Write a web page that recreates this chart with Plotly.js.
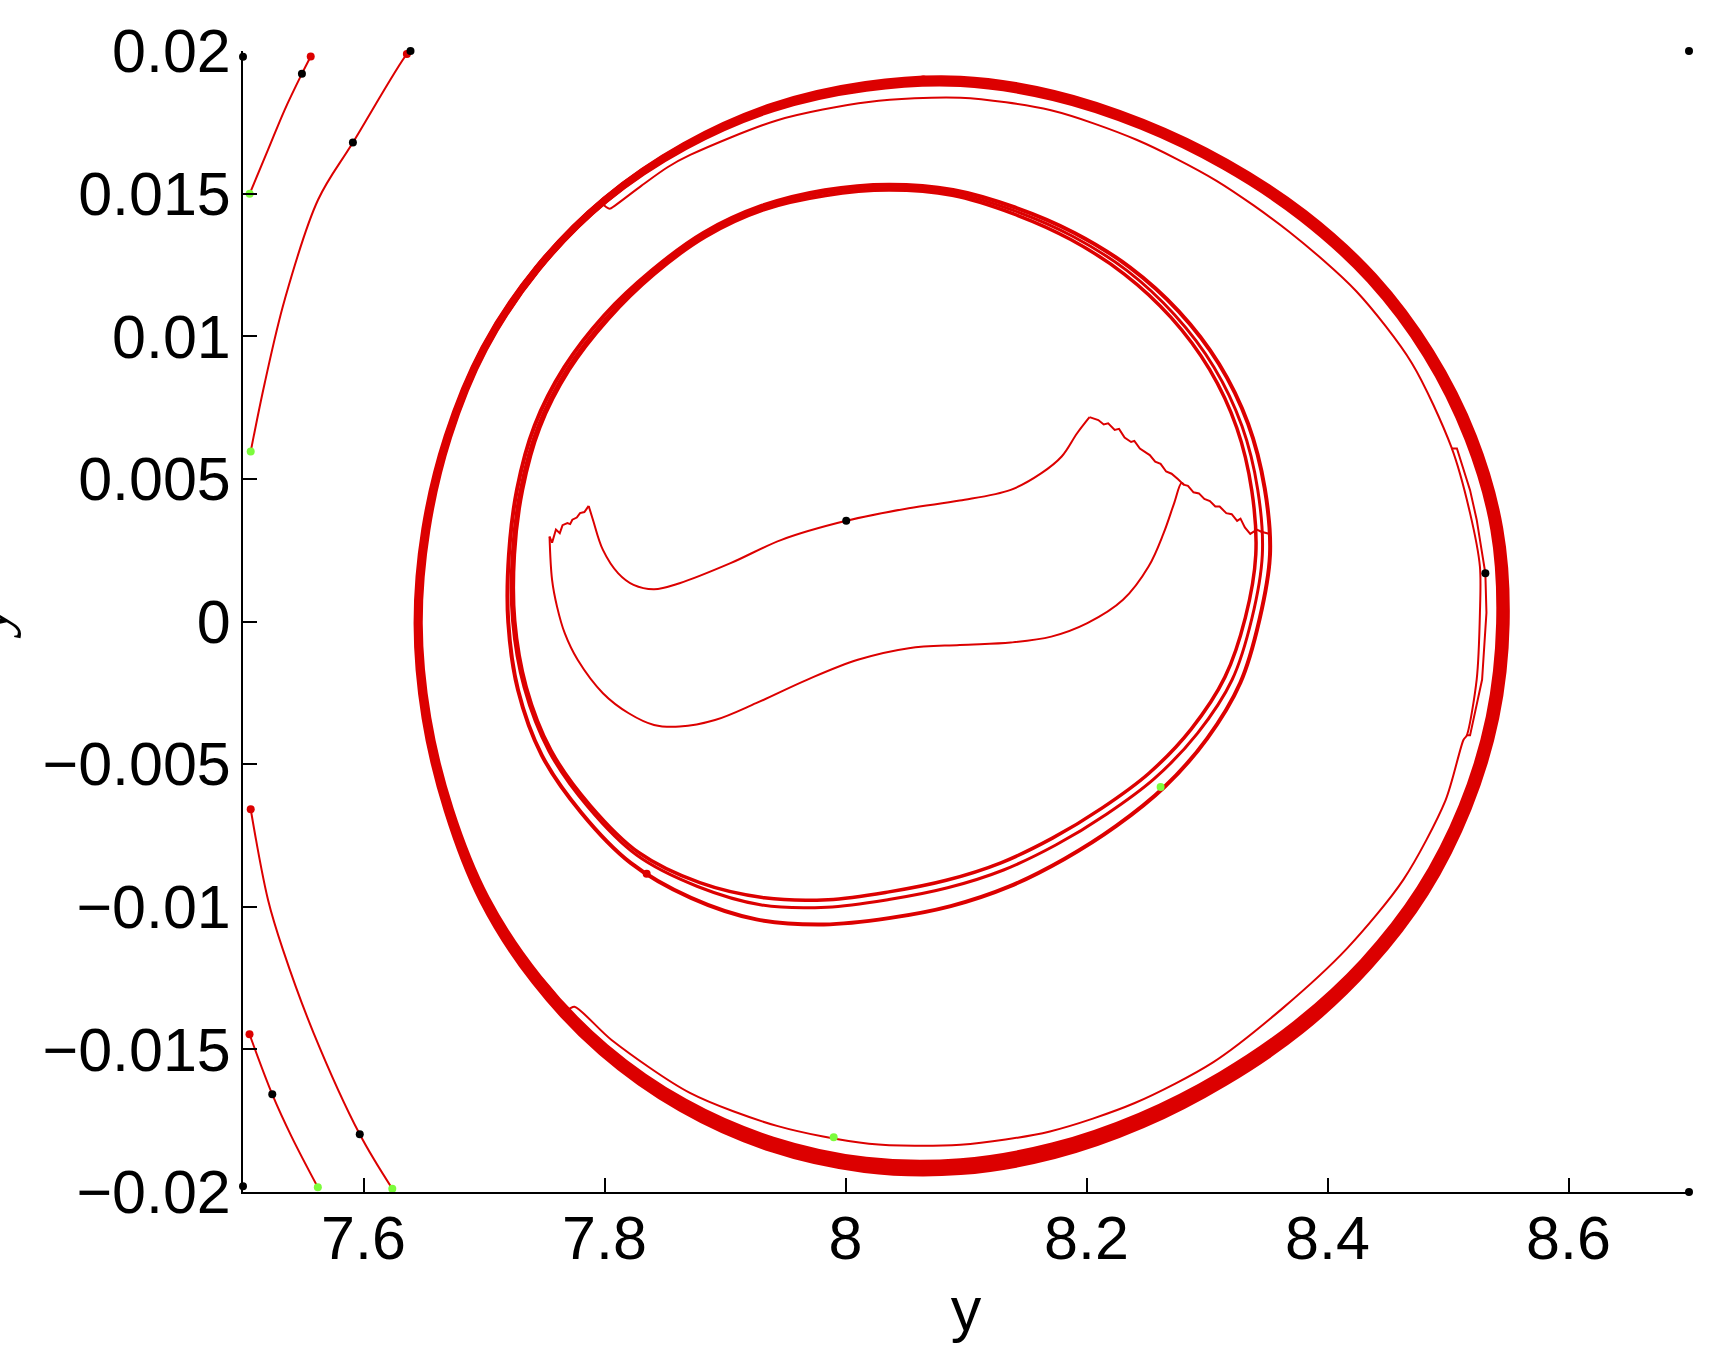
<!DOCTYPE html>
<html>
<head>
<meta charset="utf-8">
<script src="https://cdn.plot.ly/plotly-3.0.1.min.js"></script>
<style>html,body{margin:0;padding:0;background:#fff;}#chart{width:1716px;height:1350px;}</style>
</head>
<body>
<div id="chart"></div>
<script>
// ---------- data (x = y, y = dy/dt) ----------
// outer limit-cycle band: three neighbouring loops (inner edge, middle, outer edge)
const bandAX = [8.54283,8.53424,8.51158,8.47640,8.42945,8.37370,8.31143,8.24404,8.17178,8.09546,8.01705,7.93967,7.86656,7.80090,7.74548,7.70175,7.67209,7.65333,7.64628,7.65266,7.67059,7.70057,7.74461,7.80075,7.86712,7.94005,8.01720,8.09546,8.17234,8.24551,8.31427,8.37807,8.43501,8.48170,8.51649,8.53803,8.54283];
const bandAY = [-0.0000767,-0.0033476,-0.0064812,-0.0093773,-0.011929,-0.014098,-0.015895,-0.017340,-0.018386,-0.018937,-0.018887,-0.018179,-0.016842,-0.014921,-0.012496,-0.0096891,-0.0065926,-0.0033725,-0.0000767,0.0032241,0.0064621,0.0095645,0.012373,0.014775,0.016647,0.017980,0.018696,0.018860,0.018365,0.017358,0.015949,0.014165,0.011973,0.0093535,0.0064030,0.0032226,-0.0000767];
const bandCX = [8.54555,8.53692,8.51414,8.47895,8.43188,8.37603,8.31325,8.24536,8.17249,8.09546,8.01638,7.93843,7.86497,7.79915,7.74374,7.70018,7.67081,7.65222,7.64537,7.65177,7.66995,7.70018,7.74444,7.80060,7.86679,7.93967,8.01693,8.09546,8.17265,8.24613,8.31529,8.37953,8.43675,8.48366,8.51883,8.54049,8.54555];
const bandCY = [-0.0000767,-0.0033676,-0.0065204,-0.0094397,-0.012015,-0.014215,-0.016028,-0.017494,-0.018556,-0.019110,-0.019047,-0.018323,-0.016958,-0.015009,-0.012558,-0.0097275,-0.0066123,-0.0033810,-0.0000767,0.0032307,0.0064720,0.0095741,0.012379,0.014782,0.016672,0.018025,0.018761,0.018937,0.018440,0.017430,0.016024,0.014238,0.012034,0.0094014,0.0064392,0.0032407,-0.0000767];
const bandBX = [8.54827,8.53960,8.51670,8.48150,8.43432,8.37836,8.31506,8.24668,8.17320,8.09546,8.01571,7.93719,7.86338,7.79739,7.74200,7.69861,7.66953,7.65110,7.64446,7.65087,7.66932,7.69979,7.74426,7.80045,7.86644,7.93928,8.01666,8.09546,8.17296,8.24676,8.31631,8.38099,8.43849,8.48563,8.52119,8.54295,8.54827];
const bandBY = [-0.0000767,-0.0033875,-0.0065598,-0.0095021,-0.012102,-0.014333,-0.016161,-0.017647,-0.018726,-0.019283,-0.019208,-0.018467,-0.017075,-0.015097,-0.012619,-0.0097659,-0.0066320,-0.0033892,-0.0000767,0.0032375,0.0064818,0.0095837,0.012386,0.014789,0.016697,0.018070,0.018828,0.019014,0.018516,0.017502,0.016099,0.014312,0.012096,0.0094494,0.0064752,0.0032591,-0.0000767];

// thin trajectory running just inside the band (with the small kinks)
const thinX = [7.7969,7.8042,7.8087,7.8305,7.8523,7.87110,7.94355,8.01922,8.09546,8.17049,8.24148,8.30757,8.36815,8.42390,8.46992,8.5029,8.5183,8.5265,8.5265,8.5238,8.5156,8.5129,8.49794,8.46300,8.41625,8.36290,8.30530,8.24008,8.16966,8.09546,8.01945,7.94386,7.87087,7.80585,7.7751,7.7697,7.7579,7.7470];
const thinY = [0.014697,0.014467,0.014582,0.015273,0.015925,0.016356,0.017574,0.018213,0.018361,0.017922,0.016889,0.015459,0.013665,0.011578,0.0090657,0.006101,0.003799,0.001919,0.000307,-0.002034,-0.003991,-0.004144,-0.0062709,-0.0090502,-0.011460,-0.013554,-0.015447,-0.016881,-0.017876,-0.018343,-0.018311,-0.017692,-0.016526,-0.014671,-0.013507,-0.013584,-0.013008,-0.012471];
const thin2X = [8.5029,8.5074,8.5183,8.5238,8.5310,8.5319,8.5283,8.5183,8.5156];
const thin2Y = [0.006063,0.006063,0.004605,0.003569,0.001688,0.000307,-0.002034,-0.003991,-0.003991];

// inner ring: three close loops
const ring1X = [8.34048,8.33183,8.31487,8.28671,8.25186,8.21248,8.17169,8.12898,8.08361,8.03603,7.98562,7.93253,7.87904,7.82866,7.78823,7.75549,7.73502,7.72549,7.72523,7.73192,7.74628,7.77065,7.80317,7.84103,7.88381,7.93197,7.98354,8.03603,8.08855,8.13894,8.18689,8.23132,8.27028,8.30212,8.32476,8.33719,8.34048];
const ring1Y = [0.0023408,0.0001359,-0.0019505,-0.0037797,-0.0053180,-0.0065509,-0.0075951,-0.0084592,-0.0090722,-0.0094782,-0.0097522,-0.0096852,-0.0091572,-0.0081082,-0.0064528,-0.0045088,-0.0022919,0.0000258,0.0023408,0.0046079,0.0068002,0.0088201,0.010604,0.012167,0.013490,0.014432,0.014933,0.015123,0.014940,0.014298,0.013391,0.012182,0.010653,0.0088373,0.0067844,0.0045856,0.0023408];
const ring2X = [8.35227,8.34344,8.32766,8.30007,8.26507,8.22473,8.18167,8.13612,8.08738,8.03603,7.98200,7.92601,7.87178,7.82167,7.78093,7.74802,7.72820,7.72012,7.72069,7.72746,7.74201,7.76672,7.79970,7.83870,7.88199,7.93073,7.98275,8.03603,8.08934,8.14080,8.19007,8.23598,8.27654,8.30998,8.33414,8.34792,8.35227];
const ring2Y = [0.0023408,0.0000492,-0.0021474,-0.0041059,-0.0057866,-0.0071680,-0.0083262,-0.0092882,-0.0099782,-0.0103992,-0.0106212,-0.0104422,-0.0096892,-0.0084612,-0.0067118,-0.0046910,-0.0023968,-0.0000141,0.0023408,0.0046409,0.0068658,0.0089161,0.010727,0.012285,0.013623,0.014576,0.015122,0.015315,0.015129,0.014514,0.013623,0.012417,0.010875,0.0090292,0.0069288,0.0046658,0.0023408];
const ring3X = [8.34592,8.33719,8.32084,8.29222,8.25673,8.21656,8.17487,8.13115,8.08471,8.03603,7.98452,7.93036,7.87723,7.82692,7.78649,7.75392,7.73332,7.72370,7.72342,7.73013,7.74457,7.76908,7.80178,7.83987,7.88290,7.93135,7.98315,8.03603,8.08894,8.13987,8.18848,8.23365,8.27306,8.30565,8.32902,8.34210,8.34592];
const ring3Y = [0.0023408,0.0000960,-0.0020425,-0.0039140,-0.0054907,-0.0067566,-0.0078282,-0.0087112,-0.0093362,-0.0097472,-0.0100162,-0.0099372,-0.0092902,-0.0081972,-0.0065145,-0.0045472,-0.0023181,0.0000127,0.0023408,0.0046210,0.0068266,0.0088585,0.010653,0.012226,0.013557,0.014504,0.015027,0.015219,0.015034,0.014406,0.013507,0.012299,0.010752,0.0089237,0.0068501,0.0046224,0.0023408];

// S-shaped transient: noisy left tip, smooth upper branch, noisy right descent, lower branch
const sJagLX = [7.7544,7.7565,7.7597,7.7629,7.7652,7.7692,7.7715,7.7733,7.7770,7.7797,7.7833,7.7869];
const sJagLY = [0.002978,0.002763,0.003223,0.003097,0.003377,0.003454,0.003415,0.003569,0.003645,0.003799,0.003837,0.004052];
const sMidX = [7.7869,7.7904,7.7987,7.8114,7.8241,7.8411,7.8623,7.9046,7.9469,8.0006,8.0525,8.0948,8.1371,8.1626,8.1794,8.1922,8.2025];
const sMidY = [0.004052,0.003569,0.002510,0.001688,0.001285,0.001132,0.001343,0.002045,0.002863,0.003530,0.003972,0.004240,0.004616,0.005200,0.005783,0.006600,0.007164];
const sJagRX = [8.2025,8.2098,8.2143,8.2180,8.2234,8.2270,8.2316,8.2370,8.2397,8.2443,8.2497,8.2525,8.2570,8.2615,8.2661,8.2706,8.2760,8.2806,8.2842,8.2888,8.2933,8.2978,8.3024,8.3069,8.3105,8.3160,8.3205,8.3250,8.3278,8.3314,8.3359,8.3414,8.3450,8.3523];
const sJagRY = [0.007164,0.007061,0.006907,0.006945,0.006715,0.006754,0.006447,0.006293,0.006331,0.006063,0.005909,0.005833,0.005602,0.005526,0.005257,0.005180,0.004988,0.004797,0.004758,0.004528,0.004490,0.004298,0.004221,0.004029,0.004029,0.003799,0.003761,0.003530,0.003607,0.003300,0.003070,0.003223,0.003147,0.003070];
const sLowX = [7.7544,7.7565,7.7606,7.7670,7.7777,7.7987,7.8201,7.8411,7.8623,7.8917,7.9258,7.9680,8.0102,8.0525,8.0948,8.1372,8.1708,8.2007,8.2303,8.2515,8.2640,8.2727,8.2788,8.2811];
const sLowY = [0.002978,0.001458,0.000522,-0.000411,-0.001343,-0.002513,-0.003216,-0.003626,-0.003684,-0.003454,-0.002863,-0.002045,-0.001343,-0.000936,-0.000821,-0.000737,-0.000530,-0.000058,0.000760,0.001926,0.003097,0.004144,0.004850,0.004789];

// large-amplitude trajectories clipped by the window
const edgeAX = [7.5562,7.5489,7.5346,7.5208,7.5055];
const edgeAY = [0.019805,0.019202,0.017939,0.016539,0.014992];
const edgeBX = [7.6390,7.6360,7.5912,7.5623,7.5346,7.5180,7.5064];
const edgeBY = [0.020000,0.019893,0.016792,0.014785,0.011282,0.008354,0.005959];
const edgeCX = [7.5064,7.5208,7.5332,7.5587,7.5969,7.6239];
const edgeCY = [-0.006581,-0.009762,-0.011512,-0.014436,-0.017978,-0.019885];
const edgeDX = [7.5054,7.5243,7.5403,7.5621];
const edgeDY = [-0.014470,-0.016577,-0.018058,-0.019835];

// state markers
const redX = [7.5562,7.6360,7.5064,7.5054,8.0646,7.8350];
const redY = [0.019805,0.019893,-0.006581,-0.014470,0.01900,-0.00884];
const blackX = [7.5489,7.6390,7.5912,7.5969,7.5243,8.0006,8.5310,7.5,7.5,8.7,8.7];
const blackY = [0.019202,0.020000,0.016792,-0.017978,-0.016577,0.003530,0.001688,0.0198,-0.0198,0.02,-0.02];
const greenX = [7.5055,7.5064,7.6239,7.5621,8.2615,7.9902];
const greenY = [0.014992,0.005959,-0.019885,-0.019835,-0.005800,-0.01808];

// axis ticks
const xTicks = [7.6,7.8,8.0,8.2,8.4,8.6];
const xTickText = ['7.6','7.8','8','8.2','8.4','8.6'];
const yTicks = [-0.02,-0.015,-0.01,-0.005,0,0.005,0.01,0.015,0.02];
const yTickText = ['\u22120.02','\u22120.015','\u22120.01','\u22120.005','0','0.005','0.01','0.015','0.02'];

// ---------- traces ----------
const RED = 'rgb(220,0,0)';
function line(x, y, w, shape, sm) {
  return {x: x, y: y, type: 'scatter', mode: 'lines', hoverinfo: 'skip',
    line: {color: RED, width: w, shape: shape || 'spline', smoothing: sm || 1}};
}
function dots(x, y, c) {
  return {x: x, y: y, type: 'scatter', mode: 'markers', cliponaxis: false, hoverinfo: 'skip',
    marker: {color: c, size: 8, line: {width: 0}}};
}
const traces = [
  line(bandAX, bandAY, 7), line(bandCX, bandCY, 7), line(bandBX, bandBY, 7),
  line(thinX, thinY, 2, 'spline', 0.8), line(thin2X, thin2Y, 2, 'linear'),
  line(ring1X, ring1Y, 3.5), line(ring2X, ring2Y, 4), line(ring3X, ring3Y, 3),
  line(sJagLX, sJagLY, 2, 'linear'), line(sMidX, sMidY, 2), line(sJagRX, sJagRY, 2, 'linear'),
  line(sLowX, sLowY, 2),
  line(edgeAX, edgeAY, 2), line(edgeBX, edgeBY, 2), line(edgeCX, edgeCY, 2), line(edgeDX, edgeDY, 2),
  dots(redX, redY, RED), dots(blackX, blackY, '#000000'), dots(greenX, greenY, '#7cfc3c')
];

const FONT = 'Liberation Sans, Arial, Helvetica, sans-serif';
const layout = {
  width: 1716, height: 1350,
  margin: {l: 243, r: 27, t: 51, b: 158},
  paper_bgcolor: '#ffffff', plot_bgcolor: '#ffffff',
  showlegend: false,
  font: {family: FONT, size: 61, color: '#000'},
  xaxis: {
    range: [7.5, 8.7], showgrid: false, zeroline: false,
    showline: true, linecolor: '#000', linewidth: 2,
    ticks: 'inside', ticklen: 14, tickwidth: 2, tickcolor: '#000',
    tickvals: xTicks, ticktext: xTickText, ticklabelstandoff: -8,
    tickfont: {family: FONT, size: 61, color: '#000'},
    title: {text: 'y', font: {family: FONT, size: 61, color: '#000'}, standoff: 16}
  },
  yaxis: {
    range: [-0.02, 0.02], showgrid: false, zeroline: false,
    showline: true, linecolor: '#000', linewidth: 2,
    ticks: 'inside', ticklen: 14, tickwidth: 2, tickcolor: '#000',
    tickvals: yTicks, ticktext: yTickText, ticklabelstandoff: -2,
    tickfont: {family: FONT, size: 61, color: '#000'}
  },
  annotations: [{
    text: '<i>\u1e8f</i>', xref: 'paper', yref: 'paper', x: -0.178, y: 0.5,
    xanchor: 'center', yanchor: 'middle', textangle: -90, showarrow: false,
    font: {family: 'Liberation Serif, DejaVu Serif, serif', size: 64, color: '#000'}
  }]
};
Plotly.newPlot('chart', traces, layout, {displayModeBar: false, staticPlot: true});
</script>
</body>
</html>
